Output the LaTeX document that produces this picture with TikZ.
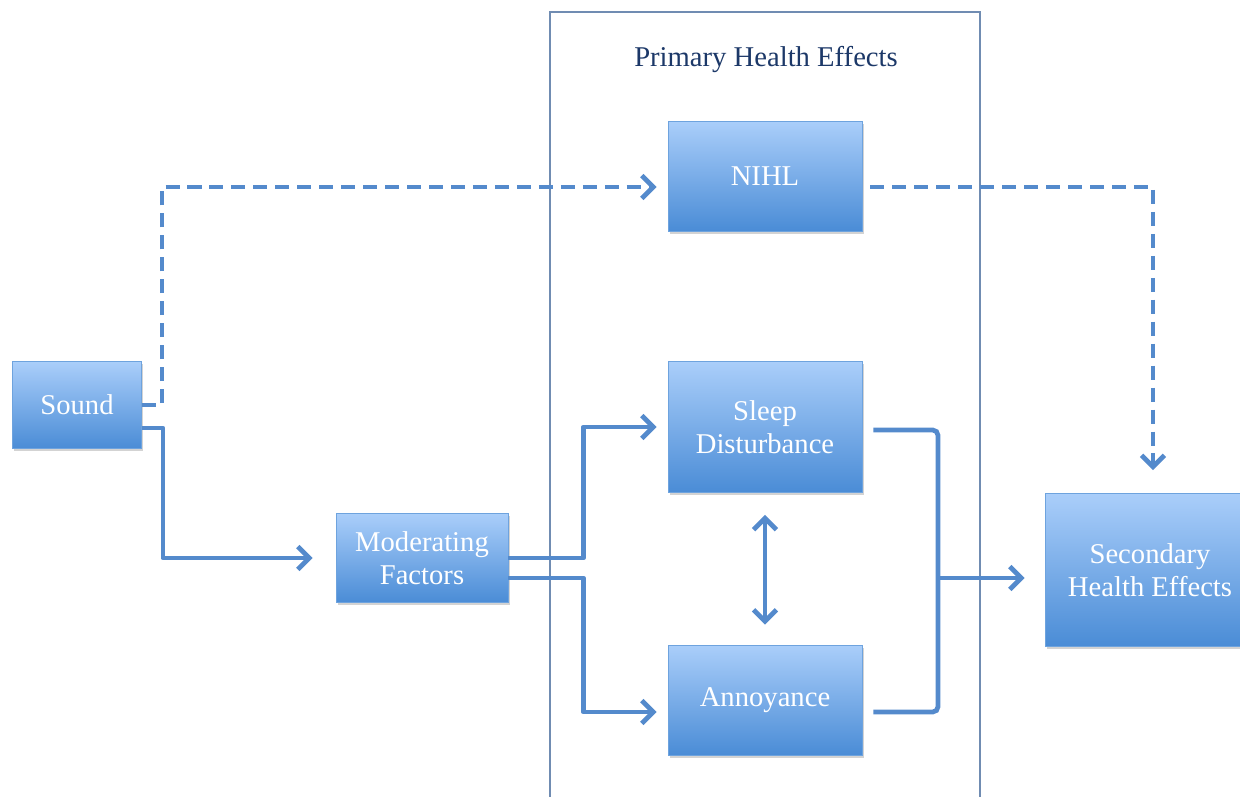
\documentclass[tikz,border=0pt]{standalone}
\usepackage{fontspec}
\setmainfont{Liberation Serif}
\usepackage{xcolor}
\usepackage{tikz}
\usetikzlibrary{positioning, calc, arrows.meta, shadows}
\definecolor{boxtop}{RGB}{170, 206, 250}
\definecolor{boxbottom}{RGB}{74, 140, 214}
\definecolor{linkblue}{RGB}{84, 138, 204}
\definecolor{framegray}{RGB}{112, 140, 178}
\definecolor{titlenavy}{RGB}{28, 56, 104}

\begin{document}
\begin{tikzpicture}[
                x=0.02cm, y=-0.02cm,
                % Style for the blue boxes
                effectbox/.style={
                    rectangle,
                    draw=boxbottom!80!white, line width=0.5pt,
                    top color=boxtop, bottom color=boxbottom,
                    text=white, font=\fontsize{16.3}{19}\selectfont,
                    align=center, inner sep=0pt,
                    drop shadow={opacity=0.35, shadow xshift=1pt, shadow yshift=-1.5pt}
                },
                % Style for solid arrows
                flowedge/.style={
                    -{Straight Barb[length=6.5pt, width=13pt]}, line width=2.7pt,
                    color=linkblue, line join=round
                },
                % Style for the bracket (no tip)
                plainedge/.style={
                    line width=2.7pt, color=linkblue, rounded corners=3pt
                },
                % Style for dashed arrows
                dashedge/.style={
                    -{Straight Barb[length=6.5pt, width=13pt]}, line width=2.7pt,
                    color=linkblue, dash pattern=on 8pt off 4.5pt
                }
            ]
                \useasboundingbox (0,0) rectangle (1240,797);

                % 1. Frame for the primary effects
                \draw[framegray, line width=1.2pt] (550,810) -- (550,12) -- (980,12) -- (980,810);
                \node[text=titlenavy, font=\fontsize{16.3}{19}\selectfont] (title) at (766,60) {Primary Health Effects};

                % 2. Boxes (coordinates set by hand)
                \node[effectbox, minimum width=2.58cm, minimum height=1.74cm] (sound) at (77,405) {Sound};
                \node[effectbox, minimum width=3.44cm, minimum height=1.78cm] (moder) at (422,558) {Moderating\\Factors};
                \node[effectbox, minimum width=3.88cm, minimum height=2.2cm] (nihl) at (765,176) {NIHL};
                \node[effectbox, minimum width=3.88cm, minimum height=2.62cm] (sleep) at (765,427) {Sleep\\Disturbance};
                \node[effectbox, minimum width=3.88cm, minimum height=2.2cm] (annoy) at (765,700) {Annoyance};
                \node[effectbox, minimum width=4.2cm, minimum height=3.06cm] (second) at (1150,570) {Secondary\\Health Effects};
                \coordinate (join) at (938,578);

                % 3. Dashed paths through NIHL
                \draw[dashedge] (sound.east) -- ++(20,0) |- ($(nihl.west)+(-11,11)$);
                \draw[dashedge] ($(nihl.east)+(8,11)$) -| ($(second.north)+(3,-23)$);

                % 4. Solid paths through the moderating factors
                \draw[flowedge] ($(sound.east)+(0,23)$) -- ++(21,0) |- ($(moder.west)+(-23,0)$);
                \draw[flowedge] (moder.east) -- ++(75,0) |- ($(sleep.west)+(-11,0)$);
                \draw[flowedge] ($(moder.east)+(0,20)$) -- ++(75,0) |- ($(annoy.west)+(-11,12)$);

                % 5. Sleep and annoyance into the secondary effects
                \draw[flowedge, {Straight Barb[length=6.5pt, width=13pt]}-{Straight Barb[length=6.5pt, width=13pt]}] ($(sleep.south)+(0,22)$) -- ($(annoy.north)+(0,-20)$);
                \draw[plainedge] ($(sleep.east)+(11,3)$) -| (join) |- ($(annoy.east)+(11,12)$);
                \draw[flowedge] (join) -- ($(second.west)+(-20,8)$);

            \end{tikzpicture}
\end{document}
